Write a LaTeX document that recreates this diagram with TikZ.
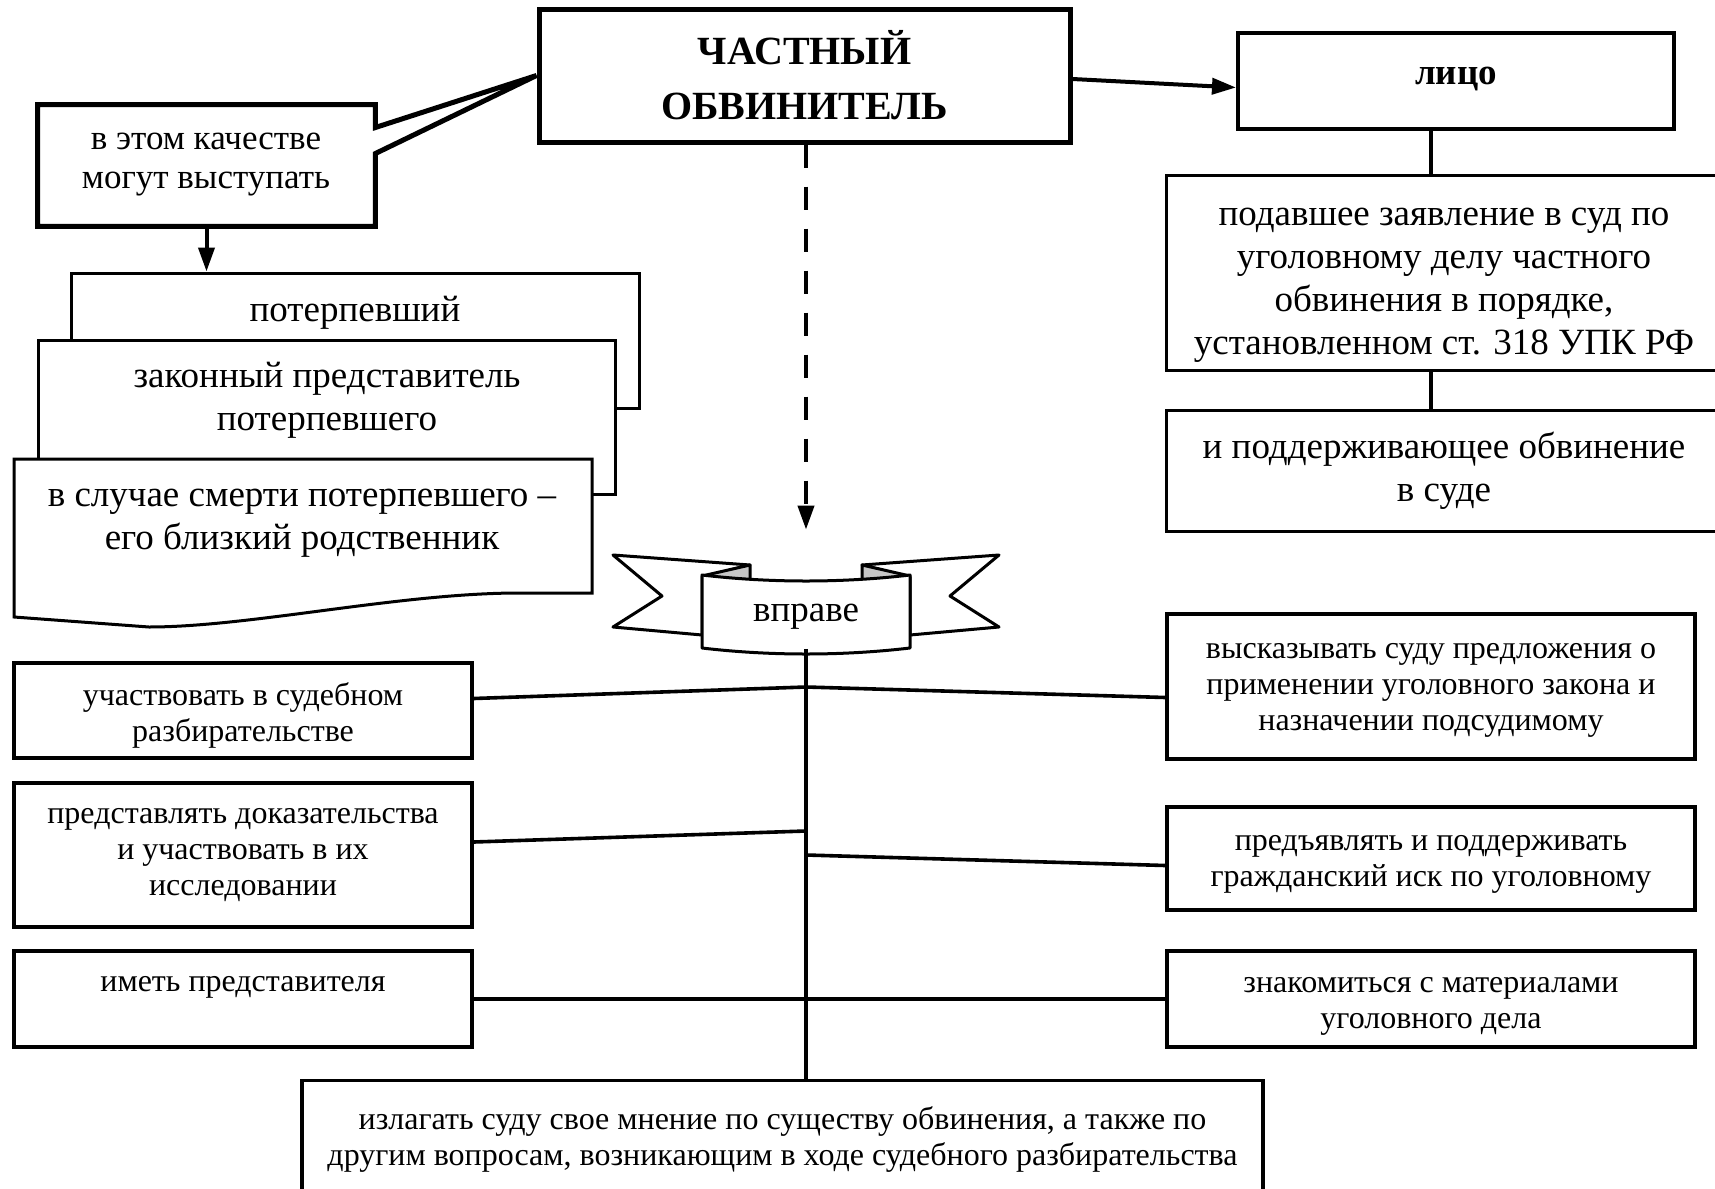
\documentclass[tikz,border=0pt]{standalone}
\usepackage{fontspec}
\setmainfont{Liberation Serif}
\usetikzlibrary{arrows.meta,calc}
\newcommand{\txtbig}{\fontsize{18.5}{21.5}\selectfont}
\newcommand{\txtsmall}{\fontsize{16}{18}\selectfont}
\newcommand{\txttitle}{\fontsize{20}{27.5}\selectfont\bfseries}
\tikzset{
  box/.style={draw, line width=1.5pt, inner sep=0pt, fill=white, align=center},
  bigtext/.style={font=\txtbig, align=center},
  smalltext/.style={font=\txtsmall, align=center},
  link/.style={line width=1.8pt},
  arr/.style={line width=2pt, -{Triangle[length=12pt,width=8pt]}},
  dasharr/.style={arr, dash pattern=on 11.5pt off 9.5pt},
  ribbon/.style={line width=1.5pt, line join=round, fill=white},
}

\begin{document}
\begin{tikzpicture}[x=0.5pt,y=-0.5pt]
  \useasboundingbox (0,0) rectangle (1715,1189);
  % top row
  \node[box, line width=2.5pt, font=\txttitle, minimum width=265.5pt, minimum height=66.5pt] (chast) at (804.5,75.5) {ЧАСТНЫЙ\\ОБВИНИТЕЛЬ};
  \node[box, line width=2pt, minimum width=218pt, minimum height=48pt] (lico) at (1456,81) {};
  \node[font=\txtbig\bfseries] (licoT) at (1456,78.5) {лицо};
  \draw[arr] ($(chast.east)+(0,3.5)$) -- ($(lico.west)+(0,6.5)$);
  \node[box, minimum width=278pt, minimum height=97.5pt] (podav) at (1444,272.5) {};
  \node[bigtext] (podavT) at (1444,285) {подавшее заявление в суд по\\уголовному делу частного\\обвинения в порядке,\\установленном ст. 318 УПК РФ};
  \node[box, bigtext, minimum width=278pt, minimum height=60.5pt] (podd) at (1444,470.5) {и поддерживающее обвинение\\в суде};
  \draw[link, line width=2pt] ($(lico.south)+(-25,0)$) -- ($(podav.north)+(-13,0)$);
  \draw[link, line width=2pt] ($(podav.south)+(-13,0)$) -- ($(podd.north)+(-13,0)$);

  % who can be
  \node[minimum width=168.5pt, minimum height=60.5pt] (kach) at (206.5,165.5) {};
  \draw[line width=2.5pt] ($(kach.east)+(0,-38)$) -- (kach.north east) -- (kach.north west) -- (kach.south west)
     -- (kach.south east) -- ($(kach.east)+(0,-12)$) -- (chast.west) -- cycle;
  \node[align=center, font=\fontsize{17.5}{19.5}\selectfont] (kachT) at (206,164.5) {в этом качестве\\могут выступать};
  \node[box, minimum width=284pt, minimum height=67.5pt] (pot) at (355,340.5) {};
  \node[bigtext] (potT) at (355,313) {потерпевший};
  \draw[arr] (kach.south) -- (kach.south |- pot.north);
  \node[box, minimum width=288.5pt, minimum height=77pt] (zak) at (326.5,417) {};
  \node[bigtext] (zakT) at (327,400) {законный представитель\\потерпевшего};
  \filldraw[line width=1.5pt, fill=white] (14,459) -- (592,459) -- (592,593) -- (519,593)
     .. controls (400,593) and (250,627) .. (149,627) -- (14,617) -- cycle;
  \node[bigtext] (smertT) at (302,523.5) {в случае смерти потерпевшего –\\его близкий родственник};

  % banner
  \node[minimum width=104pt, minimum height=36.5pt] (vprave) at (806,612) {};
  \draw[dasharr, shorten >=22.75pt] (vprave |- chast.south) -- (vprave.north);
  \foreach \s in {1,-1}{
    \begin{scope}[shift={(806,0)}, xscale=\s]
      \filldraw[ribbon] (-56,565) -- (-193,555) -- (-144,596) -- (-193,627) -- (-104,635) -- (-104,577) -- cycle;
      \filldraw[ribbon, fill=gray!45] (-104,576) -- (-56,565) -- (-56,580) -- cycle;
    \end{scope}
  }
  \filldraw[ribbon] (702,575) .. controls (770,583) and (842,583) .. (910,575) -- (910,648)
     .. controls (842,656) and (770,656) .. (702,648) -- cycle;
  \node[bigtext] (vpraveT) at (806,617) {вправе};

  % rights
  \node[box, line width=1.7pt, minimum width=229pt, minimum height=47.5pt] (uch) at (243,710.5) {};
  \node[smalltext] (uchT) at (243,715) {участвовать в судебном\\разбирательстве};
  \node[box, smalltext, line width=1.7pt, minimum width=229pt, minimum height=72pt] (pred) at (243,855) {представлять доказательства\\и участвовать в их\\исследовании};
  \node[box, line width=1.7pt, minimum width=229pt, minimum height=48pt] (imet) at (243,999) {};
  \node[smalltext] (imetT) at (243,987.5) {иметь представителя};
  \node[box, line width=1.7pt, minimum width=264pt, minimum height=72.5pt] (vys) at (1431,686.5) {};
  \node[smalltext] (vysT) at (1431,690) {высказывать суду предложения о\\применении уголовного закона и\\назначении подсудимому};
  \node[box, line width=1.7pt, minimum width=264pt, minimum height=51.5pt] (predj) at (1431,858.5) {};
  \node[smalltext] (predjT) at (1431,864) {предъявлять и поддерживать\\гражданский иск по уголовному};
  \node[box, line width=1.7pt, minimum width=264pt, minimum height=48pt] (znak) at (1431,999) {};
  \node[smalltext] (znakT) at (1431,1006) {знакомиться с материалами\\уголовного дела};
  \node[box, smalltext, line width=1.7pt, minimum width=480.5pt, minimum height=58.5pt] (izl) at (782.5,1139) {излагать суду свое мнение по существу обвинения, а также по\\другим вопросам, возникающим в ходе судебного разбирательства};

  \draw[link, line width=2.2pt] (vprave.south) -- (vprave.south |- izl.north);
  \coordinate (j1) at (806,687);
  \coordinate (j2) at (806,831);
  \coordinate (j3) at (806,855);
  \draw[link] ($(uch.east)+(0,-12)$) -- (j1) -- ($(vys.west)+(0,11)$);
  \draw[link] ($(pred.east)+(0,-13)$) -- (j2);
  \draw[link] (j3) -- ($(predj.west)+(0,7)$);
  \draw[link] (imet.east) -- (znak.west);
\end{tikzpicture}
\end{document}
